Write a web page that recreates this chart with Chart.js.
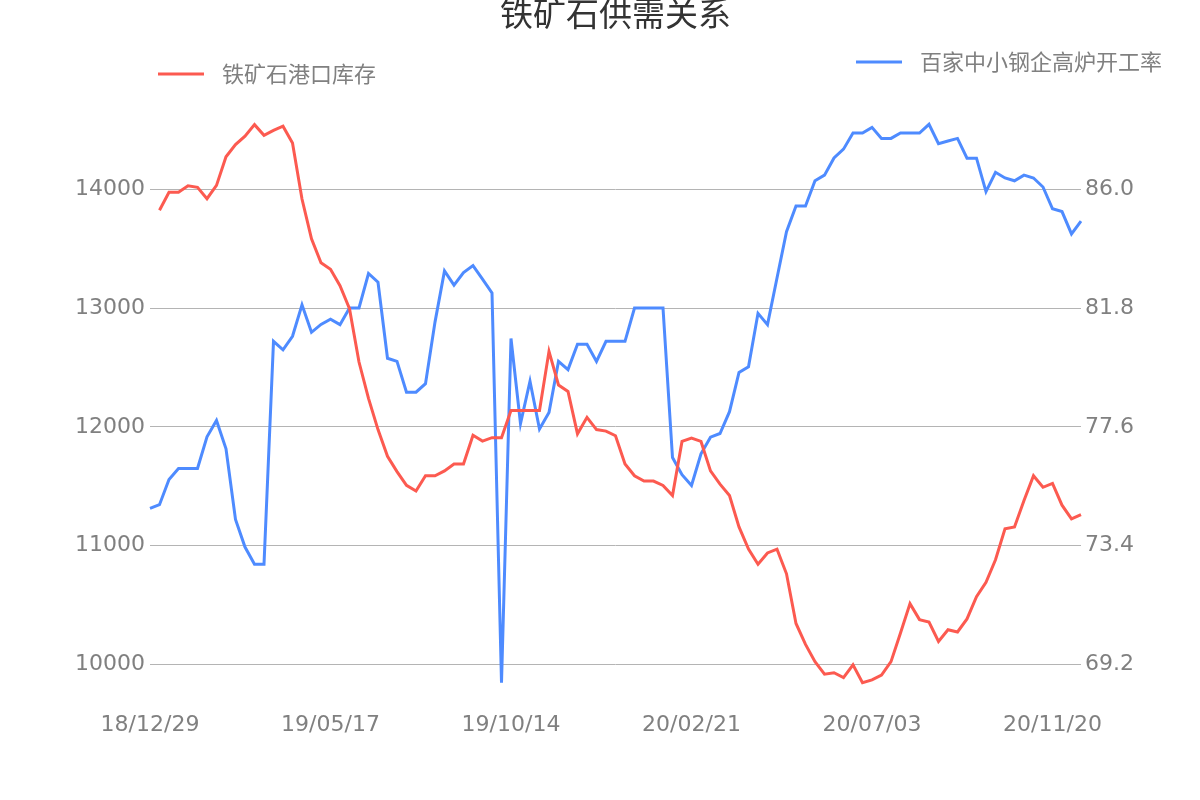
<!DOCTYPE html>
<html>
<head>
<meta charset="utf-8">
<script src="https://cdn.jsdelivr.net/npm/chart.js@4/dist/chart.umd.min.js"></script>
<style>
  body { margin: 0; background: #fff; }
  #chart { display: block; }
</style>
</head>
<body>
<canvas id="chart" width="1200" height="800"></canvas>
<script>
// weekly dates, only every 19th is shown on the axis
const dates = [
  '18/12/29', '19/01/04', '19/01/11', '19/01/18', '19/01/25', '19/02/01', '19/02/15', '19/02/22', '19/03/01', '19/03/08',
  '19/03/15', '19/03/22', '19/03/29', '19/04/05', '19/04/12', '19/04/19', '19/04/26', '19/05/03', '19/05/10', '19/05/17',
  '19/05/24', '19/05/31', '19/06/07', '19/06/14', '19/06/21', '19/06/28', '19/07/05', '19/07/12', '19/07/19', '19/07/26',
  '19/08/02', '19/08/09', '19/08/16', '19/08/23', '19/08/30', '19/09/06', '19/09/13', '19/09/20', '19/10/14', '19/10/18',
  '19/10/25', '19/11/01', '19/11/08', '19/11/15', '19/11/22', '19/11/29', '19/12/06', '19/12/13', '19/12/20', '19/12/27',
  '20/01/03', '20/01/10', '20/01/17', '20/01/24', '20/01/31', '20/02/07', '20/02/14', '20/02/21', '20/02/28', '20/03/06',
  '20/03/13', '20/03/20', '20/03/27', '20/04/03', '20/04/10', '20/04/17', '20/04/24', '20/05/01', '20/05/08', '20/05/15',
  '20/05/22', '20/05/29', '20/06/05', '20/06/12', '20/06/19', '20/06/26', '20/07/03', '20/07/10', '20/07/17', '20/07/24',
  '20/07/31', '20/08/07', '20/08/14', '20/08/21', '20/08/28', '20/09/04', '20/09/11', '20/09/18', '20/09/25', '20/10/09',
  '20/10/16', '20/10/23', '20/10/30', '20/11/06', '20/11/13', '20/11/20', '20/11/27', '20/12/04', '20/12/11'
]

// 铁矿石港口库存 (left axis)
const portStock = [
  null, 13826, 13977, 13977, 14032, 14019, 13923, 14035, 14276, 14379,
  14450, 14547, 14457, 14498, 14534, 14392, 13920, 13585, 13383, 13328,
  13190, 12997, 12547, 12241, 11978, 11753, 11624, 11508, 11460, 11589,
  11589, 11630, 11688, 11688, 11930, 11881, 11910, 11910, 12139, 12139,
  12139, 12139, 12637, 12354, 12299, 11942, 12081, 11978, 11965, 11926,
  11688, 11589, 11544, 11544, 11508, 11422, 11878, 11907, 11878, 11630,
  11518, 11422, 11158, 10971, 10843, 10939, 10971, 10763, 10345, 10168,
  10023, 9917, 9930, 9888, 9997, 9846, 9869, 9910, 10023, 10264,
  10512, 10377, 10357, 10193, 10292, 10273, 10383, 10570, 10692, 10881,
  11142, 11158, 11380, 11589, 11492, 11524, 11341, 11225, 11261
]

// 百家中小钢企高炉开工率 (right axis)
const furnaceRate = [
  74.72, 74.85, 75.74, 76.13, 76.13, 76.13, 77.25, 77.83, 76.83, 74.33,
  73.35, 72.74, 72.74, 80.63, 80.33, 80.81, 81.92, 80.95, 81.23, 81.41,
  81.22, 81.81, 81.81, 83.03, 82.72, 80.03, 79.92, 78.83, 78.83, 79.13,
  81.31, 83.12, 82.62, 83.06, 83.31, 82.83, 82.34, 68.55, 80.73, 77.72,
  79.22, 77.53, 78.11, 79.92, 79.63, 80.53, 80.53, 79.92, 80.63, 80.63,
  80.63, 81.81, 81.81, 81.81, 81.81, 76.52, 75.91, 75.53, 76.65, 77.24,
  77.37, 78.14, 79.53, 79.73, 81.62, 81.22, 82.87, 84.51, 85.42, 85.42,
  86.31, 86.51, 87.12, 87.43, 88.00, 88.00, 88.20, 87.81, 87.81, 88.00,
  88.00, 88.00, 88.31, 87.62, 87.72, 87.81, 87.11, 87.11, 85.93, 86.61,
  86.41, 86.31, 86.51, 86.41, 86.09, 85.32, 85.22, 84.43, 84.88
]

const leftTicks = [10000, 11000, 12000, 13000, 14000]
const rightTicks = [69.2, 73.4, 77.6, 81.8, 86.0]

const RED = '#fc5a50'
const BLUE = '#4e8bff'
const GRAY = '#808080'
const TICK_FONT = { family: 'DejaVu Sans', size: 22 }

// two legends in different places, like the original
const splitLegend = {
  id: 'splitLegend',
  afterDraw(chart) {
    let ctx = chart.ctx
    let spots = [
      { x: 158, y: 74 },
      { x: 856, y: 62 }
    ]
    ctx.save()
    chart.data.datasets.forEach(function (ds, i) {
      let s = spots[i]
      ctx.strokeStyle = ds.borderColor
      ctx.lineWidth = 3
      ctx.beginPath()
      ctx.moveTo(s.x, s.y)
      ctx.lineTo(s.x + 46, s.y)
      ctx.stroke()
      ctx.fillStyle = GRAY
      ctx.font = '22px "Noto Sans CJK SC", "DejaVu Sans"'
      ctx.textBaseline = 'middle'
      ctx.textAlign = 'left'
      ctx.fillText(ds.label, s.x + 64, s.y)
    })
    ctx.restore()
  }
}

new Chart(document.getElementById('chart'), {
  type: 'line',
  data: {
    labels: dates,
    datasets: [
      {
        label: '铁矿石港口库存',
        data: portStock,
        yAxisID: 'left',
        borderColor: RED,
        backgroundColor: RED,
        borderWidth: 3,
        pointRadius: 0,
        tension: 0
      },
      {
        label: '百家中小钢企高炉开工率',
        data: furnaceRate,
        yAxisID: 'right',
        borderColor: BLUE,
        backgroundColor: BLUE,
        borderWidth: 3,
        pointRadius: 0,
        tension: 0
      }
    ]
  },
  options: {
    responsive: false,
    devicePixelRatio: 1,
    animation: false,
    layout: { padding: 0 },
    plugins: {
      legend: { display: false },
      tooltip: { enabled: false },
      title: {
        display: true,
        fullSize: false, // centre over the plot, not the canvas
        text: '铁矿石供需关系',
        color: '#333',
        font: { family: 'Noto Sans CJK SC', size: 33, weight: 'normal' },
        padding: { top: -6, bottom: 61 }
      }
    },
    scales: {
      x: {
        grid: { display: false, drawTicks: false },
        border: { display: false },
        afterFit(scale) { scale.height = 100 },
        ticks: {
          autoSkip: false,
          maxRotation: 0,
          padding: 12,
          color: GRAY,
          font: TICK_FONT,
          callback(val, idx) { return idx % 19 === 0 ? this.getLabelForValue(val) : null }
        }
      },
      left: {
        position: 'left',
        min: 9700,
        max: 14800,
        border: { display: false },
        grid: { color: '#b4b4b4', lineWidth: 1, drawTicks: false },
        afterFit(scale) { scale.width = 150 },
        afterBuildTicks(scale) { scale.ticks = leftTicks.map(v => ({ value: v })) },
        ticks: {
          padding: 5,
          color: GRAY,
          font: TICK_FONT,
          callback(v) { return String(v) }
        }
      },
      right: {
        position: 'right',
        min: 67.94,
        max: 89.36,
        border: { display: false },
        grid: { display: false, drawTicks: false },
        afterFit(scale) { scale.width = 119 },
        afterBuildTicks(scale) { scale.ticks = rightTicks.map(v => ({ value: v })) },
        ticks: {
          padding: 4,
          color: GRAY,
          font: TICK_FONT,
          callback(v) { return Number(v).toFixed(1) }
        }
      }
    }
  },
  plugins: [splitLegend]
})
</script>
</body>
</html>
